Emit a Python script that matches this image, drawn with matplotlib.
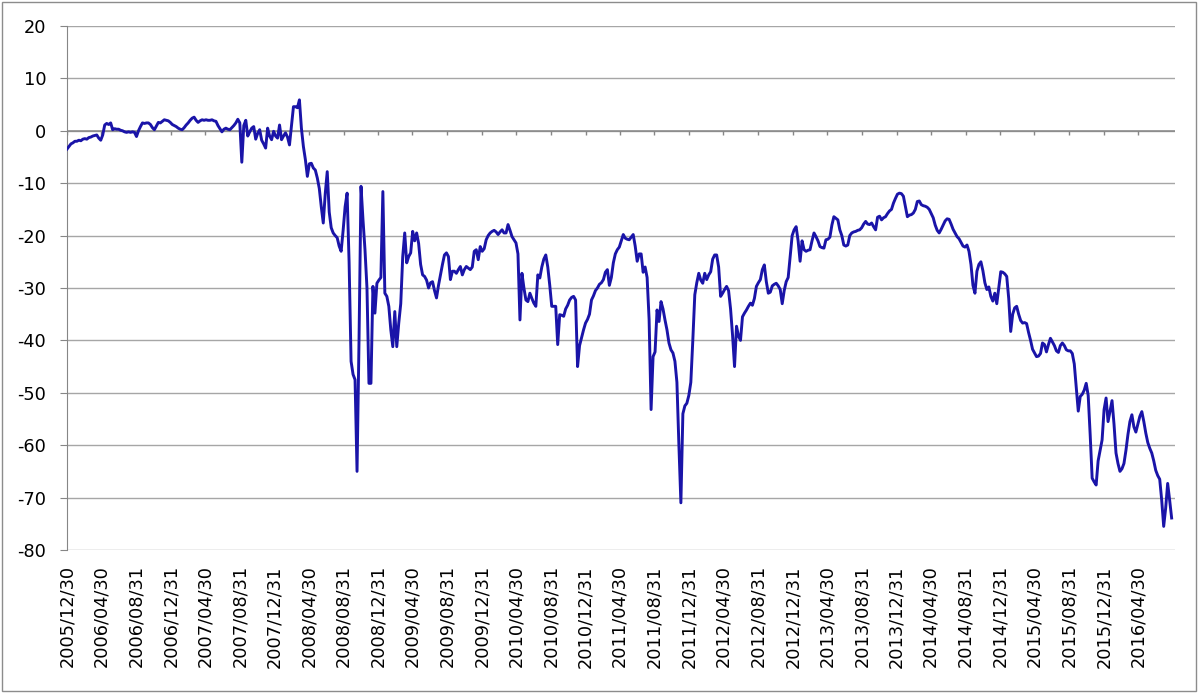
import matplotlib
matplotlib.use("Agg")
import matplotlib.pyplot as plt
from matplotlib.patches import Rectangle
import pandas as pd

# weekly observations, first one on 2005/12/30
start_date = "2005-12-30"

w2006 = [-3.5, -3.0, -2.5, -2.3, -2.0, -2.0, -1.8, -1.9, -1.6, -1.5, -1.6, -1.3, -1.2,
         -1.0, -0.9, -0.8, -1.4, -1.8, -0.8, 1.1, 1.4, 1.2, 1.5, 0.2, 0.4, 0.3,
         0.3, 0.1, 0.0, -0.2, -0.3, -0.2, -0.3, -0.2, -0.3, -1.1, 0.0, 0.8, 1.5,
         1.4, 1.5, 1.5, 1.2, 0.6, 0.2, 0.9, 1.6, 1.5, 1.8, 2.1, 2.0, 1.9]
w2007 = [1.6, 1.2, 1.0, 0.8, 0.5, 0.3, 0.2, 0.6, 1.1, 1.5, 2.0, 2.4, 2.6,
         2.0, 1.6, 1.9, 2.1, 2.0, 2.1, 2.0, 2.0, 2.1, 1.9, 1.8, 1.0, 0.4,
         -0.2, 0.3, 0.5, 0.3, 0.2, 0.6, 1.0, 1.5, 2.2, 1.5, -6.0, 1.0, 2.0,
         -1.0, -0.2, 0.5, 0.8, -1.6, -0.5, 0.2, -1.8, -2.5, -3.3, 0.5, -1.0, -1.7]
w2008 = [-0.1, -1.0, -1.4, 1.1, -1.7, -1.0, -0.4, -1.2, -2.7, 1.0, 4.6, 4.6, 4.4,
         5.9, 0.5, -3.0, -5.5, -8.7, -6.3, -6.2, -7.1, -7.5, -9.0, -11.0, -14.5, -17.6,
         -12.0, -7.8, -15.5, -18.5, -19.5, -20.0, -20.4, -22.0, -23.0, -19.0, -14.5, -11.9, -25.0,
         -44.0, -46.5, -47.5, -65.0, -40.0, -10.6, -17.0, -22.7, -30.0, -48.2, -48.2, -29.7, -34.8]
w2009 = [-29.1, -28.5, -28.0, -11.6, -31.0, -31.6, -33.5, -38.0, -41.2, -34.5, -41.2, -36.7, -33.0,
         -24.0, -19.5, -25.2, -24.0, -23.3, -19.2, -21.0, -19.5, -21.5, -25.5, -27.5, -27.8, -28.5,
         -30.0, -29.0, -28.8, -30.5, -31.9, -29.5, -27.5, -25.5, -23.7, -23.3, -24.0, -28.4, -26.8,
         -26.8, -27.2, -26.5, -25.9, -27.5, -26.5, -25.9, -26.2, -26.5, -26.0, -23.0, -22.7, -24.6]
w2010 = [-22.1, -23.0, -22.5, -20.8, -20.0, -19.5, -19.2, -19.0, -19.3, -19.8, -19.3, -18.9, -19.5,
         -19.5, -17.9, -19.0, -20.2, -20.8, -21.4, -23.5, -36.1, -27.2, -30.0, -32.3, -32.6, -31.0,
         -32.0, -32.9, -33.5, -27.5, -28.1, -26.0, -24.5, -23.7, -26.0, -29.5, -33.5, -33.5, -33.5,
         -40.8, -35.1, -35.2, -35.4, -34.0, -33.3, -32.3, -31.8, -31.6, -32.3, -45.0, -41.0, -39.5]
w2011 = [-38.0, -36.7, -36.0, -35.0, -32.3, -31.5, -30.5, -30.0, -29.3, -29.0, -28.4, -27.0, -26.5,
         -29.5, -28.0, -25.2, -23.5, -22.7, -22.2, -21.0, -19.8, -20.5, -20.7, -20.8, -20.3, -19.8,
         -22.0, -24.9, -23.5, -23.5, -27.0, -26.0, -28.0, -36.0, -53.2, -43.1, -42.2, -34.2, -36.4,
         -32.6, -34.0, -36.1, -38.0, -40.5, -41.8, -42.4, -44.0, -48.0, -60.0, -71.0, -54.0, -52.5]
w2012 = [-52.0, -50.5, -48.0, -40.0, -31.3, -29.0, -27.2, -28.5, -29.1, -27.2, -28.4, -27.5, -26.9,
         -24.5, -23.7, -23.7, -26.0, -31.6, -31.0, -30.3, -29.7, -30.5, -34.0, -39.0, -45.0, -37.3,
         -39.2, -40.0, -35.5, -34.8, -34.2, -33.5, -32.9, -33.3, -32.0, -29.7, -29.0, -28.4, -26.5,
         -25.6, -28.8, -31.0, -30.8, -29.6, -29.3, -29.1, -29.6, -30.3, -33.0, -30.5, -28.8, -28.0]
w2013 = [-24.0, -20.0, -18.9, -18.3, -21.0, -24.9, -21.0, -22.7, -23.0, -22.8, -22.7, -21.0, -19.5,
         -20.2, -21.0, -22.1, -22.3, -22.4, -20.8, -20.7, -20.3, -18.0, -16.4, -16.7, -17.0, -18.9,
         -20.0, -21.8, -22.0, -21.8, -20.0, -19.5, -19.3, -19.2, -19.0, -18.9, -18.5, -17.8, -17.3,
         -17.8, -17.9, -17.6, -18.3, -18.9, -16.5, -16.3, -17.0, -16.6, -16.4, -15.8, -15.3, -15.0]
w2014 = [-13.8, -12.9, -12.1, -11.9, -12.0, -12.5, -14.5, -16.4, -16.1, -16.0, -15.7, -15.0, -13.5,
         -13.4, -14.1, -14.3, -14.4, -14.6, -15.0, -15.8, -16.6, -18.0, -19.0, -19.5, -18.8, -18.0,
         -17.2, -16.8, -16.9, -17.8, -18.8, -19.5, -20.2, -20.6, -21.3, -22.0, -22.2, -21.8, -23.0,
         -25.5, -29.5, -31.0, -26.8, -25.5, -25.0, -26.7, -29.0, -30.3, -29.8, -31.6, -32.5, -31.0]
w2015 = [-33.0, -30.0, -26.9, -27.0, -27.3, -27.8, -32.0, -38.3, -35.0, -33.8, -33.5, -35.0, -36.2,
         -36.7, -36.6, -36.8, -38.5, -40.0, -41.7, -42.4, -43.1, -43.0, -42.5, -40.5, -40.8, -42.2,
         -40.8, -39.6, -40.3, -41.0, -42.0, -42.3, -41.0, -40.5, -41.0, -41.8, -42.0, -42.0, -42.5,
         -44.5, -49.0, -53.5, -50.7, -50.3, -49.5, -48.2, -50.5, -58.0, -66.3, -67.0, -67.6, -63.0]
w2016 = [-61.0, -59.0, -53.2, -51.0, -55.5, -53.5, -51.5, -56.0, -61.5, -63.5, -65.0, -64.5, -63.5,
         -61.0, -58.0, -55.5, -54.2, -56.5, -57.5, -56.0, -54.5, -53.6, -55.5, -57.7, -59.5, -60.6,
         -61.5, -63.0, -64.8, -65.8, -66.5, -70.5, -75.5, -72.0, -67.3, -70.5, -73.9]

values = w2006 + w2007 + w2008 + w2009 + w2010 + w2011 + w2012 + w2013 + w2014 + w2015 + w2016
dates = pd.date_range(start_date, periods=len(values), freq="7D")

tick_labels = ["2005/12/30", "2006/04/30", "2006/08/31", "2006/12/31", "2007/04/30",
               "2007/08/31", "2007/12/31", "2008/04/30", "2008/08/31", "2008/12/31",
               "2009/04/30", "2009/08/31", "2009/12/31", "2010/04/30", "2010/08/31",
               "2010/12/31", "2011/04/30", "2011/08/31", "2011/12/31", "2012/04/30",
               "2012/08/31", "2012/12/31", "2013/04/30", "2013/08/31", "2013/12/31",
               "2014/04/30", "2014/08/31", "2014/12/31", "2015/04/30", "2015/08/31",
               "2015/12/31", "2016/04/30"]
tick_pos = pd.to_datetime(tick_labels, format="%Y/%m/%d")

y_ticks = [20, 10, 0, -10, -20, -30, -40, -50, -60, -70, -80]

line_color = "#1a14a8"
grid_color = "#a6a6a6"
axis_color = "#868686"

fig = plt.figure(figsize=(12, 6.93), dpi=100)
ax = fig.add_axes([0.0558, 0.2064, 0.9234, 0.7561])

ax.plot(dates, values, color=line_color, lw=2.1, solid_joinstyle="round", zorder=3)

ax.set_ylim(-80, 20)
ax.set_xlim(pd.Timestamp(start_date), pd.Timestamp("2016-09-07"))
ax.set_yticks(y_ticks)
ax.set_yticklabels([str(v) for v in y_ticks])
ax.yaxis.grid(True, color=grid_color, lw=1.0)
ax.set_axisbelow(True)

ax.set_xticks(tick_pos)
ax.set_xticklabels(tick_labels, rotation=90, ha="center", va="top")
ax.tick_params(axis="x", length=0, pad=11, labelsize=12.8)
ax.tick_params(axis="y", length=5, pad=10, color=axis_color, labelsize=12.8)

for side in ["top", "right", "bottom"]:
    ax.spines[side].set_visible(False)
ax.spines["left"].set_color(axis_color)

# horizontal axis crosses at 0 with small marks below it, labels stay at the bottom
ax.axhline(0, color=axis_color, lw=1.1, zorder=2)
ax.vlines(tick_pos, -0.9, 0, color=axis_color, lw=1.0, zorder=2)

# light frame round the whole picture
fig.add_artist(Rectangle((0.002, 0.003), 0.995, 0.994, transform=fig.transFigure,
                         fill=False, edgecolor="#8c8c8c", lw=1.0))

plt.savefig("out.png", dpi=100)
plt.close()
